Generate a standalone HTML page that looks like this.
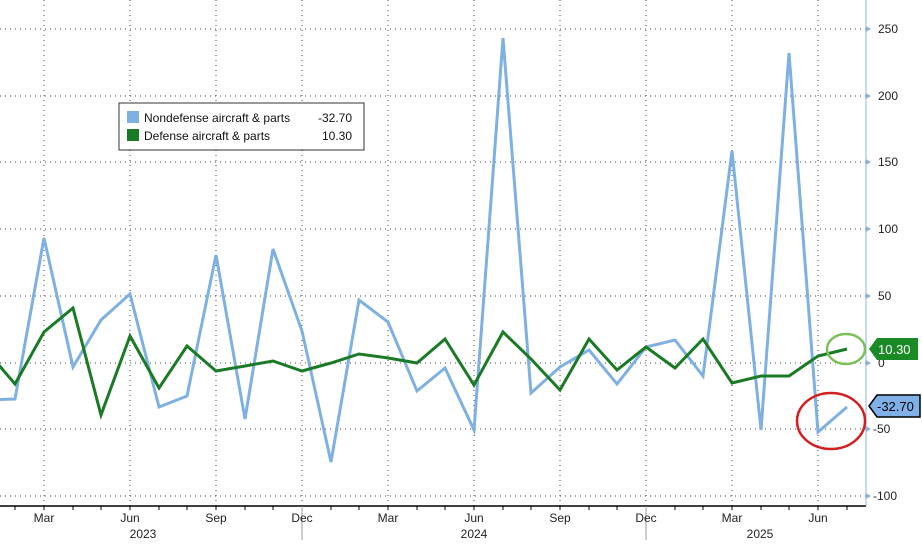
<!DOCTYPE html>
<html><head><style>body{margin:0;background:#fff}svg{display:block;font-family:"Liberation Sans",sans-serif}</style></head><body>
<svg width="922" height="545" viewBox="0 0 922 545" xmlns="http://www.w3.org/2000/svg">
<defs><clipPath id="c"><rect x="0" y="0" width="866" height="506"/></clipPath></defs>
<g stroke="#444" stroke-width="1" stroke-dasharray="1,4">
<line x1="0" x2="866" y1="29" y2="29"/><line x1="0" x2="866" y1="96" y2="96"/><line x1="0" x2="866" y1="162" y2="162"/><line x1="0" x2="866" y1="229" y2="229"/><line x1="0" x2="866" y1="296" y2="296"/><line x1="0" x2="866" y1="363" y2="363"/><line x1="0" x2="866" y1="429" y2="429"/><line x1="0" x2="866" y1="496" y2="496"/>
<line x1="44" x2="44" y1="0" y2="506"/><line x1="130" x2="130" y1="0" y2="506"/><line x1="216" x2="216" y1="0" y2="506"/><line x1="302" x2="302" y1="0" y2="506"/><line x1="388" x2="388" y1="0" y2="506"/><line x1="474" x2="474" y1="0" y2="506"/><line x1="560" x2="560" y1="0" y2="506"/><line x1="646" x2="646" y1="0" y2="506"/><line x1="732" x2="732" y1="0" y2="506"/><line x1="818" x2="818" y1="0" y2="506"/>
</g>
<line x1="0" x2="866" y1="506" y2="506" stroke="#000" stroke-width="1.5"/>
<line x1="866" x2="866" y1="0" y2="506" stroke="#8ab4e0" stroke-width="1"/>
<g stroke="#000" stroke-width="1">
<path d="M15 506v4M44 506v4M73 506v4M101 506v4M130 506v4M159 506v4M187 506v4M216 506v4M245 506v4M273 506v4M302 506v4M331 506v4M359 506v4M388 506v4M417 506v4M445 506v4M474 506v4M503 506v4M531 506v4M560 506v4M589 506v4M617 506v4M646 506v4M675 506v4M703 506v4M732 506v4M761 506v4M789 506v4M818 506v4M847 506v4"/>
<path d="M302 506v34M646 506v34" stroke="#999"/>
</g>
<g font-size="12" fill="#222" text-anchor="middle">
<text x="44" y="522">Mar</text><text x="130" y="522">Jun</text><text x="216" y="522">Sep</text><text x="302" y="522">Dec</text><text x="388" y="522">Mar</text><text x="474" y="522">Jun</text><text x="560" y="522">Sep</text><text x="646" y="522">Dec</text><text x="732" y="522">Mar</text><text x="818" y="522">Jun</text>
<text x="143" y="538">2023</text><text x="474" y="538">2024</text><text x="760" y="538">2025</text>
</g>
<g font-size="12" fill="#222">
<text x="878" y="33">250</text><text x="878" y="100">200</text><text x="878" y="166">150</text><text x="878" y="233">100</text><text x="878" y="300">50</text><text x="878" y="367">0</text><text x="873" y="433">-50</text><text x="873" y="500">-100</text>
</g>
<g fill="#8ab4e0"><path d="M866 26l5 3-5 3zM866 93l5 3-5 3zM866 159l5 3-5 3zM866 226l5 3-5 3zM866 293l5 3-5 3zM866 360l5 3-5 3zM866 426l5 3-5 3zM866 493l5 3-5 3z"/></g>
<g clip-path="url(#c)" fill="none" stroke-linejoin="miter" stroke-width="3">
<polyline stroke="#7fb0e2" points="-14,400 15,399 44,238 73,367 101,320 130,294 159,407 187,396 216,255 245,419 273,249 302,331 331,462 359,300 388,322 417,391 445,368 474,430 503,38 531,393 560,367 589,350 617,384 646,347 675,340 703,376 732,151 761,430 789,53 818,432 847,407"/>
<polyline stroke="#1a7a25" points="-14,350 15,384 44,332 73,308 101,415 130,336 159,388 187,346 216,371 245,366 273,361 302,371 331,363 359,354 388,358 417,363 445,339 474,385 503,332 531,359 560,390 589,339 617,370 646,347 675,368 703,339 732,383 761,376 789,376 818,356 847,349"/>
</g>
<ellipse cx="846" cy="349" rx="19" ry="15" fill="none" stroke="#7cc05a" stroke-width="2.5"/>
<ellipse cx="831" cy="421" rx="34" ry="28" fill="none" stroke="#d21f1f" stroke-width="2.5"/>
<path d="M869 349l8-11h41v22h-41z" fill="#1a8a25"/>
<text x="878" y="354" font-size="13" fill="#fff">10.30</text>
<path d="M869 406l8-11h43v22h-43z" fill="#7fb0e8" stroke="#000" stroke-width="1.5"/>
<text x="877" y="411" font-size="13" fill="#000">-32.70</text>
<rect x="119" y="103" width="245" height="47" fill="#fff" stroke="#333" stroke-width="1"/>
<rect x="127" y="111" width="12" height="12" fill="#7fb0e2"/>
<rect x="127" y="129" width="12" height="12" fill="#1a7a25"/>
<g font-size="12" fill="#111"><text x="144" y="122">Nondefense aircraft &amp; parts</text><text x="318" y="122">-32.70</text><text x="144" y="140">Defense aircraft &amp; parts</text><text x="322" y="140">10.30</text></g>
</svg>
</body></html>
